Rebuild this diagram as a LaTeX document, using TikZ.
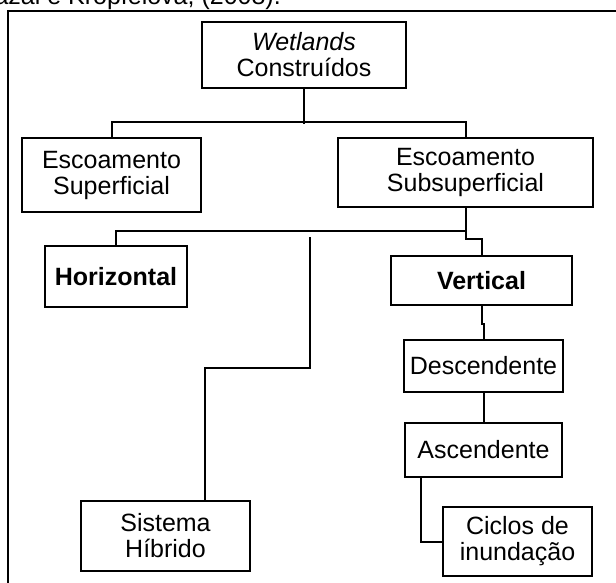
\documentclass[tikz,border=0pt]{standalone}
\usepackage{fontspec}
\setmainfont{Liberation Sans}
\begin{document}
\begin{tikzpicture}[x=1pt,y=-1pt,
  every node/.style={font=\fontsize{25}{26}\selectfont, inner sep=0pt},
  box/.style={draw=black, line width=2pt, rectangle, align=center},
  conn/.style={draw=black, line width=2pt},
  thinconn/.style={draw=black, line width=1.2pt}]
\useasboundingbox (0,0) rectangle (616,583);
\clip (0,0) rectangle (616,583);
\fill[white] (0,0) rectangle (616,583);
% partially visible caption
\node[anchor=base east] (cap) at (281,5) {Vymazal e Kröpfelová, (2008).};
% outer frame
\draw[line width=2.2pt] (8,11) rectangle (630,600);
% boxes
\node[box, minimum width=204pt, minimum height=66pt] (W) at (304,55) {\textit{Wetlands}\\Construídos};
\node[box, minimum width=179pt, minimum height=74pt] (ES) at (111.5,175) {Escoamento\\Superficial};
\node[box, minimum width=255pt, minimum height=69pt] (ESS) at (465.5,172.5) {Escoamento\\Subsuperficial};
\node[box, minimum width=142pt, minimum height=61pt] (H) at (116,276.5) {\textbf{Horizontal}};
\node[box, minimum width=181pt, minimum height=49pt] (V) at (481.5,280.5) {\textbf{Vertical}};
\node[box, minimum width=169pt, minimum height=70pt] (SH) at (165.5,536) {Sistema\\Híbrido};
\node[box, minimum width=159pt, minimum height=52pt] (D) at (483.5,366) {Descendente};
\node[box, minimum width=157pt, minimum height=54pt] (A) at (483.5,450) {Ascendente};
\node[box, minimum width=149pt, minimum height=69pt] (C) at (517.5,541.5) {Ciclos de\\inundação};
% connectors
\draw[conn] (W.south) -- ++(0,35);
\draw[conn] (ES.north) -- ++(0,-15) -| (ESS.north);
\draw[conn] (ESS.south) -- ++(0,23) coordinate (j2);
\draw[conn] (H.north) |- (j2);
\draw[conn] (j2) -- ++(0,8) -| (V.north);
\coordinate (hy) at (310,237);
\draw[thinconn] (hy) -- ++(0,131) -| ([xshift=39.5pt]SH.north);
\draw[conn] (V.south) -- ++(0,18) -| (D.north);
\draw[conn] (D.south) -- (A.north);
\draw[conn] ([xshift=-62.5pt]A.south) |- (C.west);
\end{tikzpicture}
\end{document}
